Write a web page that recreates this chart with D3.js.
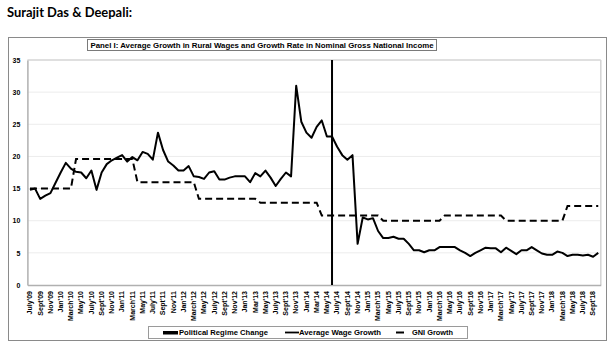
<!DOCTYPE html>
<html>
<head>
<meta charset="utf-8">
<script src="https://cdn.jsdelivr.net/npm/d3@7"></script>
<style>
	body { margin: 0; background: #fff; }
	text { font-family: "Liberation Sans", Arial, sans-serif; }
</style>
</head>
<body>
<div id="content"></div>
<script>
let months = [
	"July'09", "Aug'09", "Sept'09", "Oct'09", "Nov'09", "Dec'09",
	"Jan'10", "Feb'10", "March'10", "April'10", "May'10", "June'10", "July'10", "Aug'10", "Sept'10", "Oct'10", "Nov'10", "Dec'10",
	"Jan'11", "Feb'11", "March'11", "April'11", "May'11", "June'11", "July'11", "Aug'11", "Sept'11", "Oct'11", "Nov'11", "Dec'11",
	"Jan'12", "Feb'12", "March'12", "April'12", "May'12", "June'12", "July'12", "Aug'12", "Sept'12", "Oct'12", "Nov'12", "Dec'12",
	"Jan'13", "Feb'13", "Mar'13", "Apr'13", "May'13", "June'13", "July'13", "Aug'13", "Sept'13", "Oct'13", "Nov'13", "Dec'13",
	"Jan'14", "Feb'14", "Mar'14", "Apr'14", "May'14", "June'14", "July'14", "Aug'14", "Sept'14", "Oct'14", "Nov'14", "Dec'14",
	"Jan'15", "Feb'15", "March'15", "April'15", "May'15", "June'15", "July'15", "Aug'15", "Sept'15", "Oct'15", "Nov'15", "Dec'15",
	"Jan'16", "Feb'16", "March'16", "April'16", "May'16", "June'16", "July'16", "Aug'16", "Sept'16", "Oct'16", "Nov'16", "Dec'16",
	"Jan'17", "Feb'17", "March'17", "April'17", "May'17", "June'17", "July'17", "Aug'17", "Sept'17", "Oct'17", "Nov'17", "Dec'17",
	"Jan'18", "Feb'18", "March'18", "April'18", "May'18", "June'18", "July'18", "Aug'18", "Sept'18", "Oct'18"
];

let tickLabels = [
	"July'09", "Sept'09", "Nov'09", "Jan'10", "March'10", "May'10", "July'10", "Sept'10", "Nov'10",
	"Jan'11", "March'11", "May'11", "July'11", "Sept'11", "Nov'11", "Jan'12", "March'12", "May'12",
	"July'12", "Sept'12", "Nov'12", "Jan'13", "Mar'13", "May'13", "July'13", "Sept'13", "Nov'13",
	"Jan'14", "Mar'14", "May'14", "July'14", "Sept'14", "Nov'14", "Jan'15", "March'15", "May'15",
	"July'15", "Sept'15", "Nov'15", "Jan'16", "March'16", "May'16", "July'16", "Sept'16", "Nov'16",
	"Jan'17", "March'17", "May'17", "July'17", "Sept'17", "Nov'17", "Jan'18", "March'18", "May'18",
	"July'18", "Sept'18"
];

// average growth in rural wages, % per month
let wageGrowth = [
	14.8, 15.0, 13.4, 13.9, 14.3, 15.9,
	17.5, 19.0, 18.1, 17.6, 17.5, 16.6, 17.8, 14.8, 17.5, 18.8, 19.4, 19.8,
	20.2, 19.2, 19.9, 19.4, 20.7, 20.4, 19.5, 23.7, 21.0, 19.2, 18.6, 17.8,
	17.8, 18.5, 16.9, 16.8, 16.5, 17.5, 17.7, 16.4, 16.4, 16.7, 16.9, 16.9,
	16.9, 16.0, 17.4, 16.9, 17.8, 16.7, 15.4, 16.5, 17.5, 16.9, 31.0, 25.4,
	23.7, 22.9, 24.6, 25.6, 23.1, 23.1, 21.5, 20.2, 19.5, 20.2, 6.4, 10.5,
	10.2, 10.4, 8.4, 7.3, 7.3, 7.5, 7.2, 7.2, 6.4, 5.4, 5.4, 5.1,
	5.4, 5.4, 5.9, 5.9, 5.9, 5.9, 5.4, 5.0, 4.5, 5.0, 5.4, 5.8,
	5.7, 5.7, 5.1, 5.8, 5.3, 4.8, 5.4, 5.4, 5.9, 5.4, 4.9, 4.7,
	4.7, 5.2, 5.0, 4.5, 4.7, 4.7, 4.6, 4.7, 4.4, 5.0
];

// growth rate in nominal GNI, repeated for every month of the fiscal year
let gniGrowth = [
	15.0, 15.0, 15.0, 15.0, 15.0, 15.0,
	15.0, 15.0, 15.0, 19.6, 19.6, 19.6, 19.6, 19.6, 19.6, 19.6, 19.6, 19.6,
	19.6, 19.6, 19.6, 16.0, 16.0, 16.0, 16.0, 16.0, 16.0, 16.0, 16.0, 16.0,
	16.0, 16.0, 16.0, 13.4, 13.4, 13.4, 13.4, 13.4, 13.4, 13.4, 13.4, 13.4,
	13.4, 13.4, 13.4, 12.8, 12.8, 12.8, 12.8, 12.8, 12.8, 12.8, 12.8, 12.8,
	12.8, 12.8, 12.8, 10.8, 10.8, 10.8, 10.8, 10.8, 10.8, 10.8, 10.8, 10.8,
	10.8, 10.8, 10.8, 10.0, 10.0, 10.0, 10.0, 10.0, 10.0, 10.0, 10.0, 10.0,
	10.0, 10.0, 10.0, 10.8, 10.8, 10.8, 10.8, 10.8, 10.8, 10.8, 10.8, 10.8,
	10.8, 10.8, 10.8, 10.0, 10.0, 10.0, 10.0, 10.0, 10.0, 10.0, 10.0, 10.0,
	10.0, 10.0, 10.0, 12.3, 12.3, 12.3, 12.3, 12.3, 12.3, 12.3
];

let regimeChange = { month: "June'14", value: 35 };

let yTicks = [0, 5, 10, 15, 20, 25, 30, 35];

let legendItems = ["Political Regime Change", "Average Wage Growth", "GNI Growth"];

function drawChart()
{
	const width = 615,
		height = 344;

	const plot = {left: 27.4, right: 600.8, top: 60, bottom: 285};

	let svg = d3.select("#content")
		.append("svg")
		.attr("width", width)
		.attr("height", height);

	// author heading above the chart
	svg.append("text")
		.attr("x", 7)
		.attr("y", 17)
		.style("font-family", "Lato, 'Open Sans', sans-serif")
		.style("font-weight", "bold")
		.style("font-size", "14px")
		.attr("textLength", 125)
		.attr("lengthAdjust", "spacingAndGlyphs")
		.text("Surajit Das & Deepali:");

	// outer chart frame
	svg.append("rect")
		.attr("x", 8.5)
		.attr("y", 37.5)
		.attr("width", 598)
		.attr("height", 303)
		.attr("fill", "none")
		.attr("stroke", "#8a8a8a")
		.attr("stroke-width", 1);

	const x = d3.scaleBand()
		.domain(months)
		.range([plot.left, plot.right])
		.paddingInner(0)
		.paddingOuter(0);

	const y = d3.scaleLinear()
		.domain([0, 35])
		.range([plot.bottom, plot.top]);

	let cx = function(m) { return x(m) + x.bandwidth() / 2; };

	// gridlines
	svg.append("g")
		.attr("class", "grid")
		.selectAll("line")
		.data(yTicks.filter(function(d) { return d > 0 && d < 35; }))
		.enter()
		.append("line")
		.attr("x1", plot.left)
		.attr("x2", plot.right)
		.attr("y1", function(d) { return y(d); })
		.attr("y2", function(d) { return y(d); })
		.attr("stroke", "#ececec")
		.attr("stroke-width", 1);

	// plot area border
	svg.append("line")
		.attr("x1", plot.left).attr("x2", plot.right)
		.attr("y1", y(35)).attr("y2", y(35))
		.attr("stroke", "#d4d4d4").attr("stroke-width", 1.5);
	svg.append("line")
		.attr("x1", plot.right).attr("x2", plot.right)
		.attr("y1", y(35)).attr("y2", y(0))
		.attr("stroke", "#d4d4d4").attr("stroke-width", 1.5);

	// Y axis
	let yAxis = svg.append("g")
		.attr("transform", "translate(" + plot.left + ",0)")
		.call(d3.axisLeft(y).tickValues(yTicks).tickSize(0).tickPadding(7));
	yAxis.select(".domain").attr("stroke", "#b0b0b0").attr("stroke-width", 1.5);
	yAxis.selectAll("text")
		.style("font-size", "7px")
		.style("font-weight", "bold")
		.attr("fill", "#000");

	// X axis
	let xAxis = svg.append("g")
		.attr("transform", "translate(0," + plot.bottom + ")")
		.call(d3.axisBottom(x).tickValues(tickLabels).tickSize(0).tickPadding(0));
	xAxis.select(".domain").attr("stroke", "#b0b0b0").attr("stroke-width", 1.5);
	xAxis.selectAll("text")
		.style("font-size", "7px")
		.style("font-weight", "bold")
		.attr("fill", "#000")
		.attr("text-anchor", "end")
		.attr("transform", "rotate(-90)")
		.attr("x", -6)
		.attr("y", 0)
		.attr("dy", "0.33em");

	// regime change marker
	svg.append("rect")
		.attr("x", cx(regimeChange.month) - 1)
		.attr("y", y(regimeChange.value))
		.attr("width", 2)
		.attr("height", y(0) - y(regimeChange.value))
		.attr("fill", "#000");

	let line = d3.line()
		.x(function(d, i) { return cx(months[i]); })
		.y(function(d) { return y(d); });

	svg.append("path")
		.datum(gniGrowth)
		.attr("fill", "none")
		.attr("stroke", "#000")
		.attr("stroke-width", 2)
		.attr("stroke-dasharray", "7,4")
		.attr("d", line);

	svg.append("path")
		.datum(wageGrowth)
		.attr("fill", "none")
		.attr("stroke", "#000")
		.attr("stroke-width", 2)
		.attr("stroke-linejoin", "round")
		.attr("d", line);

	// title box
	let title = svg.append("g");
	let titleText = title.append("text")
		.attr("x", 262)
		.attr("y", 47.5)
		.attr("text-anchor", "middle")
		.style("font-size", "7.6px")
		.style("font-weight", "bold")
		.text("Panel I: Average Growth in Rural Wages and Growth Rate in Nominal Gross National Income");
	let tb = titleText.node().getBBox();
	title.insert("rect", "text")
		.attr("x", 87.5)
		.attr("y", 39.5)
		.attr("width", 349)
		.attr("height", 11)
		.attr("fill", "#fff")
		.attr("stroke", "#7a7a7a")
		.attr("stroke-width", 1);
	titleText.attr("textLength", 343).attr("lengthAdjust", "spacingAndGlyphs");

	// legend
	let legend = svg.append("g");
	legend.append("rect")
		.attr("x", 148.5)
		.attr("y", 326.5)
		.attr("width", 319)
		.attr("height", 12)
		.attr("fill", "#fff")
		.attr("stroke", "#9a9a9a")
		.attr("stroke-width", 1);

	legend.append("rect")
		.attr("x", 163).attr("y", 331).attr("width", 15).attr("height", 3.5)
		.attr("fill", "#000");
	legend.append("line")
		.attr("x1", 285).attr("x2", 299).attr("y1", 332.5).attr("y2", 332.5)
		.attr("stroke", "#000").attr("stroke-width", 1.8);
	legend.append("line")
		.attr("x1", 396).attr("x2", 404).attr("y1", 332.5).attr("y2", 332.5)
		.attr("stroke", "#000").attr("stroke-width", 2);

	let legendX = [179, 299, 412];
	let legendW = [89, 82, 41];
	legendItems.forEach(function(d, i)
	{
		legend.append("text")
			.attr("x", legendX[i])
			.attr("y", 335.3)
			.style("font-size", "7.5px")
			.style("font-weight", "bold")
			.attr("textLength", legendW[i])
			.attr("lengthAdjust", "spacingAndGlyphs")
			.text(d);
	});
}

drawChart();
</script>
</body>
</html>
